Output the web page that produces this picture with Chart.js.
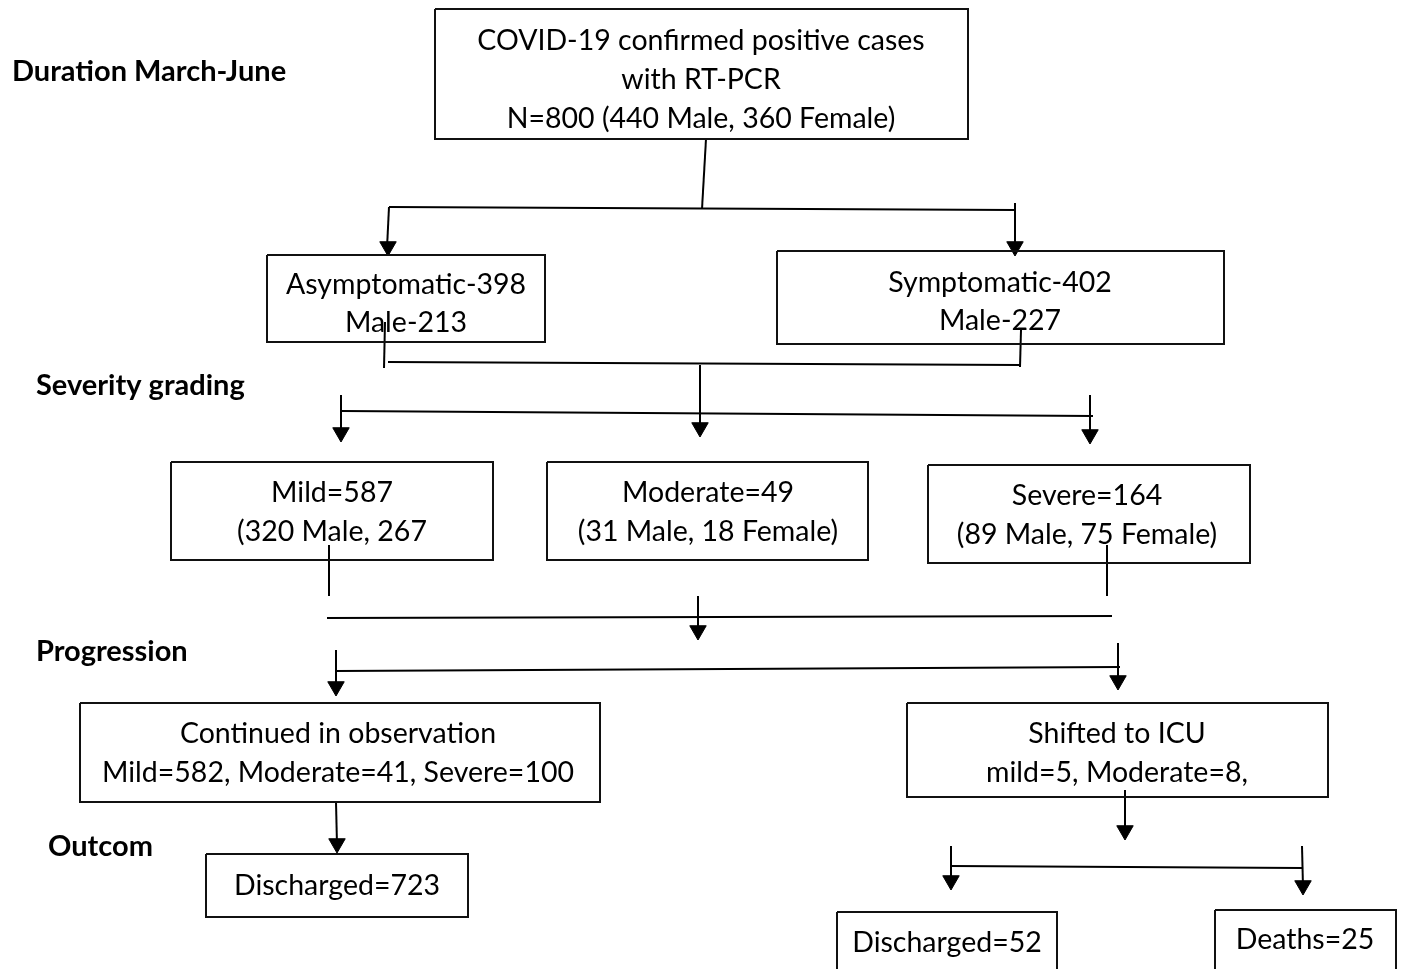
<!DOCTYPE html>
<html>
<head>
<meta charset="utf-8">
<script src="https://cdn.jsdelivr.net/npm/chart.js@4.4.0/dist/chart.umd.min.js"></script>
<style>
  body { margin: 0; background: #fff; }
  #wrap { width: 1404px; height: 969px; }
</style>
</head>
<body>
<div id="wrap"><canvas id="flow" width="1404" height="969"></canvas></div>
<script>
// stage names on the left
const stageLabels = ["Duration March-June", "Severity grading", "Progression", "Outcom"];

// text of each box, line by line
const nodeText = [
  ["COVID-19 confirmed positive cases", "with RT-PCR", "N=800 (440 Male, 360 Female)"],
  ["Asymptomatic-398", "Male-213"],
  ["Symptomatic-402", "Male-227"],
  ["Mild=587", "(320 Male, 267"],
  ["Moderate=49", "(31 Male, 18 Female)"],
  ["Severe=164", "(89 Male, 75 Female)"],
  ["Continued in observation", "Mild=582, Moderate=41, Severe=100"],
  ["Shifted to ICU", "mild=5, Moderate=8,"],
  ["Discharged=723"],
  ["Discharged=52"],
  ["Deaths=25"]
];

// ---- layout (in scale units, page is 1404 x 969) ----
const stagePos = [[12, 72], [36, 386], [36, 652], [48, 847]];
// x1, y1, x2, y2 of each box
const boxPos = [
  [435, 9, 968, 139],
  [267, 255, 545, 342],
  [777, 251, 1224, 344],
  [171, 462, 493, 560],
  [547, 462, 868, 560],
  [928, 465, 1250, 563],
  [80, 703, 600, 802],
  [907, 703, 1328, 797],
  [206, 854, 468, 917],
  [837, 912, 1057, 985],
  [1215, 910, 1396, 985]
];
// first line y and line step for the text in each box
const textPos = [
  [701, 41, 39], [406, 285, 38], [1000, 283, 38],
  [332, 493, 39], [708, 493, 39], [1087, 496, 39],
  [338, 734, 39], [1117, 734, 39], [337, 886, 0],
  [947, 943, 0], [1305, 940, 0]
];
// connector segments
const links = [
  [706, 139, 702, 209], [389, 207, 1015, 210],
  [389, 207, 387, 248], [1015, 203, 1015, 248],
  [385, 322, 384, 368], [388, 362, 1020, 365], [1021, 330, 1020, 367],
  [700, 365, 700, 428],
  [342, 411, 1093, 416], [341, 395, 341, 434], [1090, 395, 1090, 436],
  [329, 545, 329, 596], [327, 618, 1112, 616], [1107, 545, 1107, 596],
  [698, 596, 698, 632],
  [336, 671, 1120, 667], [336, 650, 336, 688], [1118, 643, 1118, 682],
  [336, 802, 337, 845],
  [1125, 790, 1125, 832],
  [951, 866, 1302, 868], [951, 846, 951, 882], [1302, 846, 1303, 887]
];
// arrow tips
const arrowTips = [
  [388, 256], [1015, 256], [700, 437], [341, 442], [1090, 444],
  [698, 640], [336, 696], [1118, 690], [337, 853], [1125, 840],
  [951, 890], [1303, 895]
];

const arrowR = 9.5;
const datasets = [];

boxPos.forEach((b) => {
  datasets.push({
    type: "line",
    data: [
      { x: b[0], y: b[1] }, { x: b[2], y: b[1] }, { x: b[2], y: b[3] },
      { x: b[0], y: b[3] }, { x: b[0], y: b[1] }
    ],
    borderColor: "#111",
    borderWidth: 2,
    pointRadius: 0,
    tension: 0,
    clip: false
  });
});

links.forEach((l) => {
  datasets.push({
    type: "line",
    data: [{ x: l[0], y: l[1] }, { x: l[2], y: l[3] }],
    borderColor: "#000",
    borderWidth: 2,
    pointRadius: 0,
    clip: false
  });
});

datasets.push({
  type: "scatter",
  data: arrowTips.map((t) => ({ x: t[0], y: t[1] - arrowR })),
  pointStyle: "triangle",
  rotation: 180,
  pointRadius: arrowR,
  backgroundColor: "#000",
  borderColor: "#000",
  borderWidth: 1,
  clip: false
});

// draws the box texts and stage names
const textPlugin = {
  id: "flowText",
  afterDatasetsDraw(chart) {
    const ctx = chart.ctx;
    const xs = chart.scales.x;
    const ys = chart.scales.y;
    ctx.save();
    ctx.fillStyle = "#000";
    ctx.textBaseline = "middle";

    ctx.font = "bold 29px Lato, 'Open Sans', sans-serif";
    ctx.textAlign = "left";
    stageLabels.forEach((s, i) => {
      ctx.fillText(s, xs.getPixelForValue(stagePos[i][0]), ys.getPixelForValue(stagePos[i][1]));
    });

    ctx.font = "28.5px Lato, 'Open Sans', sans-serif";
    ctx.textAlign = "center";
    nodeText.forEach((lines, i) => {
      const p = textPos[i];
      lines.forEach((line, j) => {
        ctx.fillText(line, xs.getPixelForValue(p[0]), ys.getPixelForValue(p[1] + j * p[2]));
      });
    });
    ctx.restore();
  }
};

new Chart(document.getElementById("flow"), {
  data: { datasets: datasets },
  options: {
    responsive: false,
    devicePixelRatio: 1,
    animation: false,
    layout: { padding: 0, autoPadding: false },
    plugins: { legend: { display: false }, tooltip: { enabled: false } },
    scales: {
      x: { type: "linear", min: 0, max: 1404, display: false },
      y: { type: "linear", min: 0, max: 969, reverse: true, display: false }
    }
  },
  plugins: [textPlugin]
});
</script>
</body>
</html>
